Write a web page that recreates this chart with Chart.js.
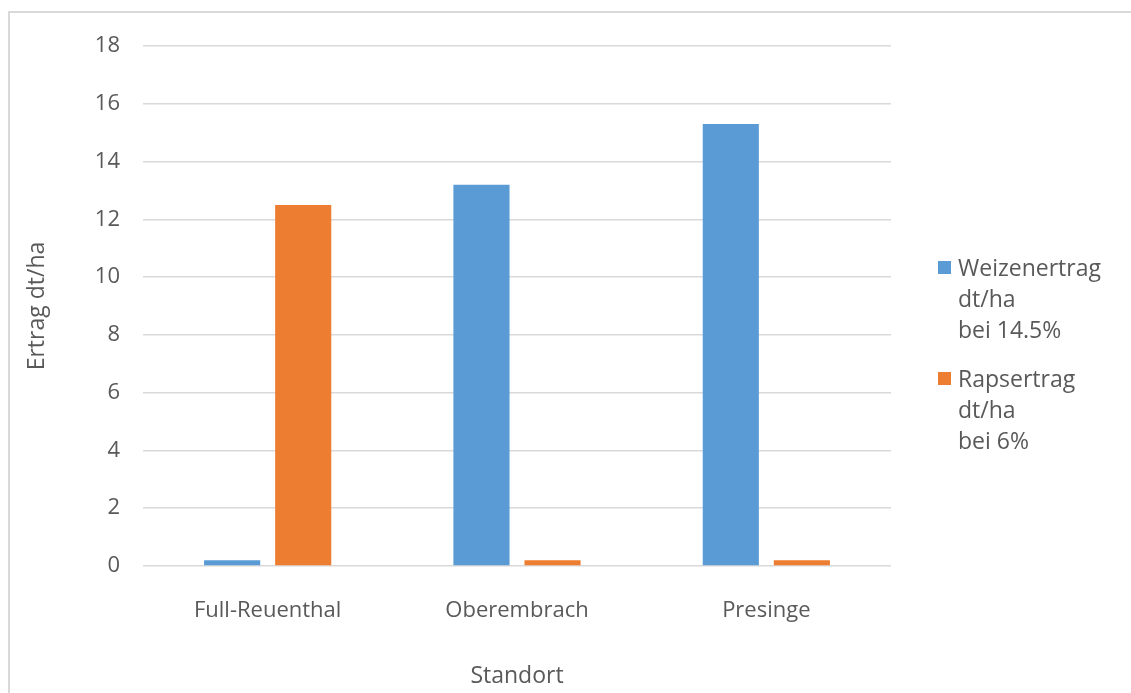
<!DOCTYPE html>
<html>
<head>
    <meta charset="UTF-8">
    <title>Ertrag</title>
    <script src="https://cdn.jsdelivr.net/npm/chart.js"></script>
    <style>
        html, body { margin: 0; padding: 0; background: #fff; overflow: hidden; }
        #wrap { position: relative; width: 1131px; height: 693px; }
        #frame {
            position: absolute; left: 8px; top: 11px; width: 1200px; height: 800px;
            border-top: 2px solid #d9d9d9; border-left: 2px solid #d9d9d9;
            pointer-events: none;
        }
        #legend {
            position: absolute; left: 938px; top: 252px;
            font-family: "Open Sans", sans-serif; font-size: 23px; color: #595959;
            line-height: 31px;
        }
        .item { display: flex; align-items: flex-start; margin-bottom: 18px; }
        .box { width: 13px; height: 13px; margin-top: 9px; margin-right: 7px; flex: none; }
    </style>
</head>
<body>
<div id="wrap">
    <canvas id="chart" width="1131" height="693"></canvas>
    <div id="frame"></div>
    <div id="legend"></div>
</div>
<script>
    const standorte = ['Full-Reuenthal', 'Oberembrach', 'Presinge'];
    const weizen = [0.2, 13.2, 15.3];
    const raps = [12.5, 0.2, 0.2];
    const seriesLabels = [['Weizenertrag', 'dt/ha', 'bei 14.5%'], ['Rapsertrag', 'dt/ha', 'bei 6%']];
    const seriesColors = ['#5b9bd5', '#ed7d31'];

    const textColor = '#595959';
    const font = { family: '"Open Sans", sans-serif', size: 22 };
    const titleFont = { family: '"Open Sans", sans-serif', size: 23 };

    new Chart(document.getElementById('chart'), {
        type: 'bar',
        data: {
            labels: standorte,
            datasets: [
                { label: seriesLabels[0].join(' '), data: weizen, backgroundColor: seriesColors[0] },
                { label: seriesLabels[1].join(' '), data: raps, backgroundColor: seriesColors[1] }
            ]
        },
        options: {
            responsive: false,
            animation: false,
            datasets: { bar: { categoryPercentage: 0.57, barPercentage: 0.79 } },
            layout: { padding: { top: 46, right: 240, left: 0, bottom: 0 } },
            plugins: { legend: { display: false }, tooltip: { enabled: false } },
            scales: {
                x: {
                    grid: { display: false },
                    border: { display: false },
                    ticks: { color: textColor, font: font, padding: 24 },
                    title: { display: true, text: 'Standort', color: textColor, font: titleFont, padding: { top: 0, bottom: 3 } },
                    afterFit: s => { s.height = 127; }
                },
                y: {
                    min: 0, max: 18,
                    ticks: { stepSize: 2, color: textColor, font: font, padding: 23 },
                    grid: { color: '#d9d9d9', lineWidth: 1.5, drawTicks: false },
                    border: { display: false },
                    title: { display: true, text: 'Ertrag dt/ha', color: textColor, font: titleFont, padding: { top: 24, bottom: 0 } },
                    afterFit: s => { s.width = 143; }
                }
            }
        }
    });

    const legend = document.getElementById('legend');
    seriesLabels.forEach((lines, i) => {
        const item = document.createElement('div');
        item.className = 'item';
        item.innerHTML = '<div class="box" style="background:' + seriesColors[i] + '"></div><div>' + lines.join('<br>') + '</div>';
        legend.appendChild(item);
    });
</script>
</body>
</html>
